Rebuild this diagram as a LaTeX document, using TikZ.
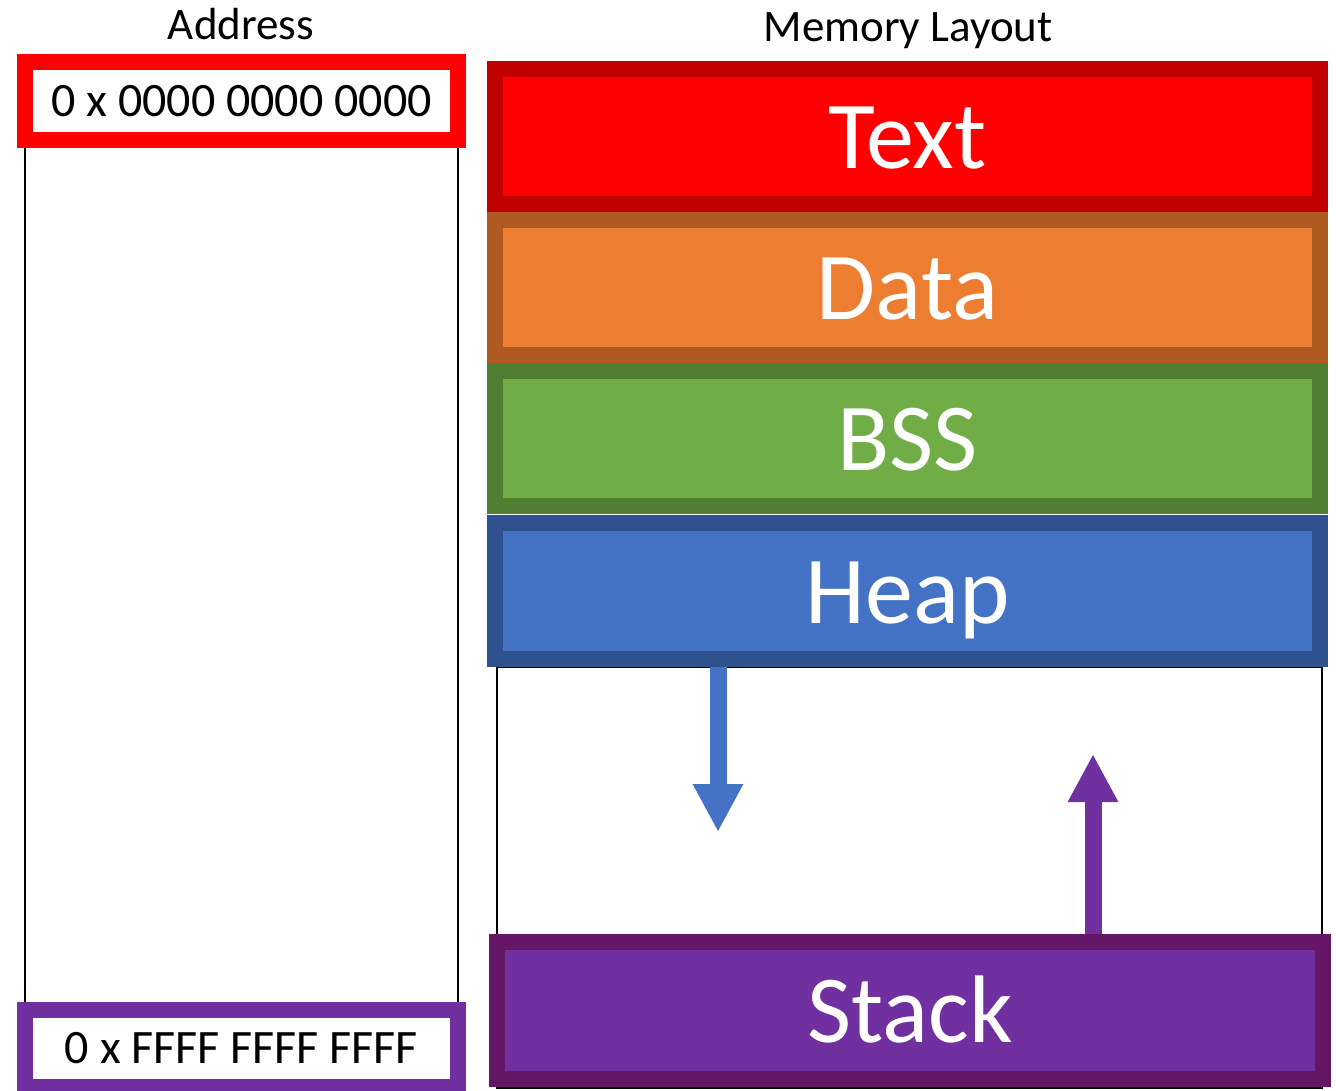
\documentclass[tikz,border=0pt]{standalone}
\usepackage{fontspec}
\setmainfont{Carlito}
\usetikzlibrary{arrows.meta}

\definecolor{txtfill}{HTML}{FF0000}
\definecolor{txtedge}{HTML}{C00000}
\definecolor{datfill}{HTML}{ED7D31}
\definecolor{datedge}{HTML}{AE5A21}
\definecolor{bssfill}{HTML}{70AD47}
\definecolor{bssedge}{HTML}{507E32}
\definecolor{hepfill}{HTML}{4472C4}
\definecolor{hepedge}{HTML}{2F528F}
\definecolor{stkfill}{HTML}{7030A0}
\definecolor{stkedge}{HTML}{641764}

\newcommand{\bigfont}{\fontsize{96bp}{100bp}\selectfont}
\newcommand{\addrfont}{\fontsize{48bp}{52bp}\selectfont}
\newcommand{\headfont}{\fontsize{45bp}{50bp}\selectfont}

\tikzset{
  segment/.style={draw, line width=16bp, minimum width=825bp, minimum height=135bp,
    inner sep=0pt, text=white, font=\bigfont, text height=64bp, text depth=0bp},
  addrbox/.style={draw, fill=white, line width=16bp, minimum width=433bp,
    minimum height=78bp, inner sep=0pt, font=\addrfont},
  heading/.style={font=\headfont, inner sep=0pt, anchor=base},
  rail/.style={line width=2bp, black},
  growarrow/.style={line width=17bp, -{Triangle[length=48bp, width=47bp]}},
}

\begin{document}
\begin{tikzpicture}[x=1bp, y=-1bp]
\useasboundingbox (0,0) rectangle (1336,1090);

% headings
\node[heading] (addrhead) at (241,39) {Address};
\node[heading] (memhead) at (908,41) {Memory Layout};

% address column
\node[addrbox, draw=txtfill] (lowaddr) at (241.5,101) {0 x 0000 0000 0000};
\node[addrbox, draw=stkfill, minimum height=77bp] (highaddr) at (241.5,1048.5) {0 x FFFF FFFF FFFF};
\draw[rail] (25,148) -- (25,1002);
\draw[rail] (458,148) -- (458,1002);

% free region between heap and stack
\draw[rail] (497,667) rectangle (1322,1088);

% memory segments
\node[segment, fill=txtfill, draw=txtedge] (text) at (907.5,136.5) {Text};
\node[segment, fill=datfill, draw=datedge] (data) at (907.5,287.5) {Data};
\node[segment, fill=bssfill, draw=bssedge] (bss) at (907.5,438.5) {BSS};
\node[segment, fill=hepfill, draw=hepedge, minimum height=136bp] (heap) at (907.5,591) {Heap};
\node[segment, fill=stkfill, draw=stkedge, minimum width=826bp, minimum height=137bp] (stack) at (910,1010.5) {Stack};

% growth directions
\coordinate (heapend) at (718,832);
\coordinate (stackend) at (1093,754);
\draw[growarrow, hepfill] (heap.south -| heapend) -- (heapend);
\draw[growarrow, stkfill] (stack.north -| stackend) -- (stackend);
\end{tikzpicture}
\end{document}
